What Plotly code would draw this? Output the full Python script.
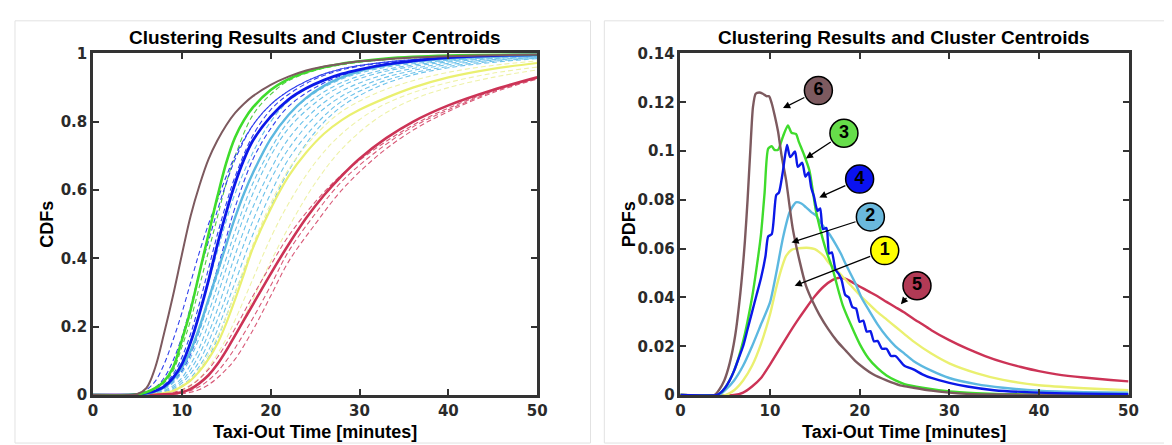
import plotly.graph_objects as go

# ---------------- DATA ----------------
# CDF panel: taxi-out minutes grid for centroid curves
CDF_X = [0, 4, 5, 6, 7, 8, 9, 10, 11, 12, 13, 14, 15, 16, 17, 18, 20, 22, 24, 26, 28, 30, 33, 36, 40, 45, 50]
CDF_C6_BROWN = [0, 0, 0.003, 0.02, 0.08, 0.18, 0.29, 0.41, 0.525, 0.615, 0.69, 0.745, 0.79, 0.826, 0.853, 0.875, 0.908, 0.932, 0.95, 0.962, 0.97, 0.977, 0.983, 0.988, 0.992, 0.995, 0.997]
CDF_C3_GREEN = [0, 0, 0.002, 0.008, 0.02, 0.04, 0.08, 0.16, 0.25, 0.36, 0.47, 0.58, 0.68, 0.755, 0.805, 0.842, 0.893, 0.925, 0.946, 0.96, 0.97, 0.977, 0.985, 0.99, 0.994, 0.997, 0.998]
CDF_C4_BLUE = [0, 0, 0.002, 0.006, 0.012, 0.025, 0.05, 0.09, 0.155, 0.24, 0.335, 0.44, 0.535, 0.62, 0.69, 0.745, 0.815, 0.865, 0.898, 0.922, 0.94, 0.953, 0.968, 0.978, 0.988, 0.994, 0.997]
CDF_C2_LIGHTBLUE = [0, 0, 0.001, 0.004, 0.01, 0.022, 0.045, 0.08, 0.13, 0.2, 0.28, 0.36, 0.44, 0.52, 0.59, 0.65, 0.75, 0.82, 0.87, 0.905, 0.93, 0.948, 0.965, 0.976, 0.985, 0.992, 0.995]
CDF_C1_YELLOW = [0, 0, 0, 0.001, 0.003, 0.006, 0.012, 0.025, 0.043, 0.07, 0.105, 0.15, 0.21, 0.28, 0.355, 0.43, 0.545, 0.64, 0.71, 0.765, 0.805, 0.835, 0.87, 0.9, 0.93, 0.955, 0.972]
CDF_C5_RED = [0, 0, 0, 0, 0.001, 0.002, 0.004, 0.008, 0.018, 0.035, 0.058, 0.09, 0.13, 0.175, 0.22, 0.265, 0.355, 0.44, 0.518, 0.585, 0.642, 0.692, 0.752, 0.8, 0.848, 0.893, 0.93]

# CDF panel: individual (dashed) cluster members
MEMBER_X = [0, 5, 6, 7, 8, 9, 10, 11, 12, 13, 14, 15, 16, 18, 20, 22, 25, 28, 32, 36, 40, 45, 50]
GREEN_M1 = [0, 0.001, 0.006, 0.017, 0.035, 0.07, 0.14, 0.22, 0.32, 0.42, 0.52, 0.62, 0.70, 0.82, 0.88, 0.92, 0.95, 0.967, 0.98, 0.987, 0.992, 0.995, 0.997]
BLUE_M1 = [0, 0.003, 0.015, 0.04, 0.09, 0.16, 0.24, 0.33, 0.42, 0.5, 0.57, 0.64, 0.7, 0.79, 0.85, 0.89, 0.93, 0.955, 0.972, 0.982, 0.988, 0.993, 0.996]
BLUE_M2 = [0, 0.002, 0.008, 0.022, 0.05, 0.1, 0.17, 0.26, 0.36, 0.45, 0.54, 0.62, 0.69, 0.79, 0.85, 0.89, 0.93, 0.955, 0.972, 0.982, 0.988, 0.993, 0.996]
BLUE_M3 = [0, 0.001, 0.004, 0.01, 0.02, 0.04, 0.07, 0.12, 0.19, 0.28, 0.37, 0.46, 0.55, 0.69, 0.78, 0.845, 0.9, 0.935, 0.96, 0.975, 0.984, 0.991, 0.995]
BLUE_M4 = [0, 0.001, 0.005, 0.014, 0.03, 0.06, 0.11, 0.18, 0.27, 0.37, 0.47, 0.56, 0.64, 0.76, 0.835, 0.88, 0.925, 0.952, 0.97, 0.98, 0.987, 0.992, 0.996]
LB_M1 = [0, 0.001, 0.004, 0.012, 0.028, 0.055, 0.1, 0.16, 0.24, 0.33, 0.42, 0.51, 0.59, 0.71, 0.8, 0.86, 0.91, 0.94, 0.963, 0.976, 0.984, 0.99, 0.994]
LB_M2 = [0, 0.001, 0.003, 0.009, 0.02, 0.04, 0.075, 0.125, 0.19, 0.27, 0.35, 0.44, 0.52, 0.65, 0.75, 0.82, 0.885, 0.925, 0.955, 0.97, 0.98, 0.988, 0.993]
LB_M3 = [0, 0.001, 0.003, 0.008, 0.017, 0.035, 0.065, 0.11, 0.17, 0.24, 0.32, 0.4, 0.48, 0.62, 0.72, 0.8, 0.87, 0.915, 0.948, 0.966, 0.978, 0.987, 0.992]
LB_M4 = [0, 0, 0.002, 0.006, 0.013, 0.027, 0.05, 0.09, 0.14, 0.21, 0.29, 0.37, 0.45, 0.59, 0.7, 0.78, 0.855, 0.905, 0.942, 0.962, 0.975, 0.985, 0.991]
LB_M5 = [0, 0, 0.002, 0.005, 0.011, 0.022, 0.042, 0.075, 0.12, 0.18, 0.25, 0.33, 0.41, 0.55, 0.66, 0.75, 0.835, 0.89, 0.932, 0.956, 0.971, 0.982, 0.989]
LB_M6 = [0, 0, 0.001, 0.004, 0.009, 0.018, 0.035, 0.063, 0.1, 0.155, 0.22, 0.29, 0.37, 0.51, 0.63, 0.72, 0.815, 0.875, 0.922, 0.95, 0.967, 0.98, 0.988]
LB_M7 = [0, 0, 0.001, 0.003, 0.007, 0.015, 0.028, 0.05, 0.085, 0.13, 0.19, 0.26, 0.33, 0.47, 0.59, 0.69, 0.79, 0.86, 0.912, 0.943, 0.962, 0.977, 0.986]
LB_M8 = [0, 0, 0.001, 0.003, 0.006, 0.012, 0.024, 0.043, 0.072, 0.11, 0.165, 0.23, 0.3, 0.43, 0.55, 0.655, 0.77, 0.845, 0.902, 0.937, 0.958, 0.974, 0.985]
YEL_M1 = [0, 0, 0.001, 0.003, 0.007, 0.014, 0.027, 0.047, 0.078, 0.12, 0.17, 0.23, 0.3, 0.44, 0.56, 0.66, 0.76, 0.83, 0.885, 0.92, 0.945, 0.965, 0.978]
YEL_M2 = [0, 0, 0, 0.002, 0.004, 0.008, 0.016, 0.03, 0.05, 0.08, 0.12, 0.165, 0.22, 0.34, 0.46, 0.56, 0.68, 0.765, 0.84, 0.885, 0.915, 0.942, 0.96]
YEL_M3 = [0, 0, 0, 0.001, 0.003, 0.006, 0.012, 0.022, 0.038, 0.06, 0.09, 0.13, 0.175, 0.28, 0.39, 0.49, 0.62, 0.72, 0.81, 0.865, 0.9, 0.93, 0.952]
RED_M1 = [0, 0, 0.001, 0.002, 0.004, 0.008, 0.015, 0.028, 0.048, 0.075, 0.11, 0.15, 0.195, 0.29, 0.38, 0.465, 0.565, 0.645, 0.725, 0.79, 0.84, 0.89, 0.928]
RED_M2 = [0, 0, 0, 0, 0.001, 0.002, 0.004, 0.008, 0.016, 0.03, 0.05, 0.075, 0.105, 0.19, 0.29, 0.39, 0.5, 0.6, 0.7, 0.775, 0.83, 0.885, 0.925]
RED_M3 = [0, 0, 0, 0.001, 0.002, 0.004, 0.007, 0.013, 0.025, 0.043, 0.068, 0.1, 0.138, 0.225, 0.32, 0.42, 0.53, 0.625, 0.715, 0.785, 0.835, 0.888, 0.927]

# PDF panel: centroid densities
PDF6_X = [0, 3.8, 4.3, 4.9, 5.5, 6.1, 6.7, 7.2, 7.5, 7.8, 8.1, 8.4, 8.8, 9.2, 9.6, 9.9, 10.2, 10.5, 10.9, 11.3, 11.8, 12.2, 12.55, 13.3, 14.0, 14.8, 15.5, 16.5, 17.5, 18.5, 19.5, 20.5, 21.5, 23.0, 24.5, 26.0, 28.0, 30.0, 32.0, 35.0, 50.0]
PDF6_Y = [0, 0, 0.002, 0.006, 0.013, 0.024, 0.042, 0.063, 0.080, 0.100, 0.118, 0.1235, 0.124, 0.1235, 0.1225, 0.1225, 0.1195, 0.115, 0.108, 0.098, 0.088, 0.077, 0.068, 0.055, 0.045, 0.038, 0.033, 0.027, 0.022, 0.018, 0.014, 0.011, 0.0085, 0.006, 0.004, 0.003, 0.0018, 0.001, 0.0005, 0.0002, 0]
PDF3_X = [0, 4, 4.5, 5, 6, 7, 8, 8.5, 9, 9.4, 9.8, 10.2, 10.5, 10.9, 11.45, 12.0, 12.4, 12.9, 13.2, 13.8, 14.4, 15.1, 15.6, 16.2, 17.0, 17.7, 18.1, 19, 20, 21, 22, 23, 24, 25, 27, 30, 33, 36, 40, 50]
PDF3_Y = [0, 0, 0.001, 0.003, 0.010, 0.022, 0.040, 0.052, 0.066, 0.083, 0.101, 0.102, 0.1005, 0.1005, 0.106, 0.1105, 0.1075, 0.107, 0.104, 0.0985, 0.092, 0.076, 0.068, 0.060, 0.0515, 0.042, 0.037, 0.029, 0.021, 0.015, 0.011, 0.008, 0.006, 0.0045, 0.003, 0.0015, 0.0008, 0.0004, 0.0002, 0]
PDF4_X = [0, 4, 4.5, 5, 5.5, 6, 6.5, 7, 7.5, 8, 8.5, 9, 9.5, 9.8, 10.2, 10.7, 11.0, 11.45, 11.9, 12.25, 12.8, 13.1, 13.6, 13.95, 14.3, 14.6, 14.9, 15.3, 15.6, 15.9, 16.3, 16.6, 16.9, 17.3, 17.7, 18.0, 18.4, 18.8, 19.2, 19.6, 20.0, 20.4, 20.8, 21.2, 21.6, 22.0, 22.5, 23.0, 23.5, 24.0, 25, 26, 27, 28, 30, 32, 35, 40, 45, 50]
PDF4_Y = [0, 0, 0.001, 0.003, 0.006, 0.010, 0.015, 0.020, 0.027, 0.034, 0.041, 0.048, 0.057, 0.065, 0.066, 0.082, 0.083, 0.092, 0.1025, 0.0975, 0.0998, 0.0935, 0.0952, 0.0895, 0.0912, 0.085, 0.0815, 0.0755, 0.0765, 0.068, 0.0685, 0.058, 0.0585, 0.0515, 0.0495, 0.047, 0.041, 0.040, 0.036, 0.0355, 0.030, 0.0305, 0.026, 0.0262, 0.022, 0.0222, 0.019, 0.019, 0.016, 0.016, 0.012, 0.0105, 0.0085, 0.007, 0.005, 0.0035, 0.002, 0.001, 0.0006, 0.0004]
PDF2_X = [0, 4.3, 5, 6, 7, 8, 9, 10, 10.7, 11.45, 12.2, 12.9, 13.5, 14.0, 14.6, 15.1, 15.6, 16.2, 16.8, 17.3, 17.9, 18.4, 19.5, 20.2, 21, 22, 23, 24, 25, 26, 28, 30, 33, 36, 40, 45, 50]
PDF2_Y = [0, 0, 0.002, 0.006, 0.012, 0.020, 0.029, 0.038, 0.050, 0.0645, 0.075, 0.079, 0.0785, 0.077, 0.075, 0.0737, 0.071, 0.068, 0.065, 0.062, 0.058, 0.054, 0.046, 0.040, 0.035, 0.029, 0.024, 0.020, 0.017, 0.014, 0.010, 0.007, 0.0045, 0.003, 0.0018, 0.0012, 0.001]
PDF1_X = [0, 5, 6, 7, 8, 9, 10, 10.7, 11.3, 11.8, 12.4, 12.9, 13.6, 14.4, 15.0, 15.5, 16.0, 16.6, 17.3, 18, 19, 20, 21, 22, 23, 24, 25, 26, 28, 30, 33, 36, 40, 45, 50]
PDF1_Y = [0, 0, 0.002, 0.006, 0.012, 0.021, 0.033, 0.044, 0.052, 0.057, 0.0595, 0.060, 0.0603, 0.0603, 0.0598, 0.0586, 0.057, 0.054, 0.0515, 0.049, 0.045, 0.041, 0.0375, 0.034, 0.031, 0.028, 0.025, 0.022, 0.017, 0.013, 0.009, 0.0062, 0.004, 0.0028, 0.002]
PDF5_X = [0, 6, 7, 8, 9, 10, 11, 12, 13, 14, 15, 16, 17, 17.6, 18.4, 19, 20, 21, 22, 23, 24, 25, 26, 27, 28, 30, 32, 34, 36, 38, 40, 42, 45, 48, 50]
PDF5_Y = [0, 0, 0.001, 0.0035, 0.007, 0.0125, 0.0185, 0.0245, 0.0302, 0.0355, 0.0405, 0.0445, 0.0472, 0.048, 0.0477, 0.0466, 0.0445, 0.0425, 0.0405, 0.0382, 0.036, 0.0338, 0.0313, 0.029, 0.0266, 0.0225, 0.019, 0.016, 0.0135, 0.0115, 0.0098, 0.0085, 0.0072, 0.0062, 0.0056]

# Cluster labels: label text, label position, arrow target (data units of PDF panel)
LABELS = ["6", "3", "4", "2", "1", "5"]
LABEL_X = [15.4, 18.25, 20.0, 21.2, 22.8, 26.4]
LABEL_Y = [0.1248, 0.1073, 0.0885, 0.073, 0.0592, 0.0448]
ARROW_X = [11.45, 14.0, 15.5, 12.4, 12.75, 24.6]
ARROW_Y = [0.1176, 0.097, 0.081, 0.0625, 0.0448, 0.0372]

TITLE = "Clustering Results and Cluster Centroids"
XLABEL = "Taxi-Out Time [minutes]"

# ---------------- STYLE ----------------
FONT = "Liberation Sans, Arial, sans-serif"
TICK_FONT = "DejaVu Sans, Liberation Sans, sans-serif"
C_BROWN = "#7d5a5f"
C_GREEN = "#3fdc2c"
C_BLUE = "#0b18e8"
C_LBLUE = "#5cb8e0"
C_YEL = "#eaf070"
C_RED = "#cc3356"
CIRCLE_FILL = {"6": "#7d5a5f", "3": "#66dd4a", "4": "#0a12f0", "2": "#6ab8dc", "1": "#ffff00", "5": "#b23a55"}

W, H = 1172, 445
L_DOM = [81 / W, 531 / W]
R_DOM = [676 / W, 1130 / W]
Y_DOM = [1 - 394 / H, 1 - 38 / H]

fig = go.Figure()

members = [
    (GREEN_M1, "#55cc44"),
    (BLUE_M1, "#3040ee"), (BLUE_M2, "#3040ee"), (BLUE_M3, "#3040ee"), (BLUE_M4, "#3040ee"),
    (LB_M1, "#6cc2ea"), (LB_M2, "#6cc2ea"), (LB_M3, "#6cc2ea"), (LB_M4, "#6cc2ea"),
    (LB_M5, "#6cc2ea"), (LB_M6, "#6cc2ea"), (LB_M7, "#6cc2ea"), (LB_M8, "#6cc2ea"),
    (YEL_M1, "#eef2a8"), (YEL_M2, "#eef2a8"), (YEL_M3, "#eef2a8"),
    (RED_M1, "#d85a78"), (RED_M2, "#d85a78"), (RED_M3, "#d85a78"),
]
for ys, col in members:
    fig.add_trace(go.Scatter(x=MEMBER_X, y=ys, mode="lines", xaxis="x", yaxis="y",
                             line=dict(color=col, width=1.1, dash="5px,3px", shape="spline", smoothing=1.0),
                             showlegend=False, hoverinfo="skip"))

centroids = [
    (CDF_C1_YELLOW, C_YEL, 2.2), (CDF_C5_RED, C_RED, 2.6), (CDF_C2_LIGHTBLUE, C_LBLUE, 2.4),
    (CDF_C4_BLUE, C_BLUE, 2.8), (CDF_C3_GREEN, C_GREEN, 2.6), (CDF_C6_BROWN, C_BROWN, 2.0),
]
for ys, col, w in centroids:
    fig.add_trace(go.Scatter(x=CDF_X, y=ys, mode="lines", xaxis="x", yaxis="y",
                             line=dict(color=col, width=w, shape="spline", smoothing=1.0),
                             showlegend=False))

pdfs = [
    (PDF5_X, PDF5_Y, C_RED), (PDF1_X, PDF1_Y, C_YEL), (PDF2_X, PDF2_Y, C_LBLUE),
    (PDF3_X, PDF3_Y, C_GREEN), (PDF6_X, PDF6_Y, C_BROWN), (PDF4_X, PDF4_Y, C_BLUE),
]
for xs, ys, col in pdfs:
    fig.add_trace(go.Scatter(x=xs, y=ys, mode="lines", xaxis="x2", yaxis="y2",
                             line=dict(color=col, width=2.4, shape="spline", smoothing=0.6),
                             showlegend=False))

fig.add_trace(go.Scatter(
    x=LABEL_X, y=LABEL_Y, mode="markers+text", xaxis="x2", yaxis="y2",
    marker=dict(size=28, color=[CIRCLE_FILL[t] for t in LABELS], line=dict(color="black", width=1.5)),
    text=["<b>%s</b>" % t for t in LABELS], textposition="middle center",
    textfont=dict(family=FONT, size=18, color="black"), showlegend=False, cliponaxis=False))

annotations = []
for t, cx, cy, hx, hy in zip(LABELS, LABEL_X, LABEL_Y, ARROW_X, ARROW_Y):
    annotations.append(dict(x=hx, y=hy, xref="x2", yref="y2", ax=cx, ay=cy, axref="x2", ayref="y2",
                            text="", showarrow=True, arrowhead=2, arrowsize=1.1, arrowwidth=1.3,
                            arrowcolor="black", startstandoff=14))

for cx in [(L_DOM[0] + L_DOM[1]) / 2, (R_DOM[0] + R_DOM[1]) / 2]:
    annotations.append(dict(x=cx, y=1 - 21 / H, xref="paper", yref="paper", text="<b>%s</b>" % TITLE,
                            showarrow=False, font=dict(family=FONT, size=19, color="black"),
                            xanchor="center", yanchor="middle"))
    annotations.append(dict(x=cx, y=1 - 433 / H, xref="paper", yref="paper", text="<b>%s</b>" % XLABEL,
                            showarrow=False, font=dict(family=FONT, size=18, color="black"),
                            xanchor="center", yanchor="middle"))
annotations.append(dict(x=35 / W, y=1 - 216 / H, xref="paper", yref="paper", text="<b>CDFs</b>",
                        showarrow=False, textangle=-90, font=dict(family=FONT, size=18, color="black"),
                        xanchor="center", yanchor="middle"))
annotations.append(dict(x=624 / W, y=1 - 216 / H, xref="paper", yref="paper", text="<b>PDFs</b>",
                        showarrow=False, textangle=-90, font=dict(family=FONT, size=18, color="black"),
                        xanchor="center", yanchor="middle"))

axis_common = dict(showgrid=False, zeroline=False, showline=True, linecolor="#333333", linewidth=2.5,
                   mirror="ticks", ticks="inside", ticklen=6, tickwidth=2, tickcolor="#333333",
                   tickfont=dict(family=TICK_FONT, size=15, color="#2a2a2a", weight="bold"))

shapes = [
    dict(type="rect", xref="paper", yref="paper", x0=2 / W, x1=585 / W, y0=1 - 444 / H, y1=1 - 4 / H,
         line=dict(color="#e2e2e2", width=1), layer="below"),
    dict(type="rect", xref="paper", yref="paper", x0=599 / W, x1=1170 / W, y0=1 - 444 / H, y1=1 - 4 / H,
         line=dict(color="#e2e2e2", width=1), layer="below"),
]

fig.update_layout(
    width=W, height=H, autosize=False,
    margin=dict(l=0, r=0, t=0, b=0),
    paper_bgcolor="white", plot_bgcolor="white",
    showlegend=False,
    xaxis=dict(domain=L_DOM, range=[0, 50], tickvals=[0, 10, 20, 30, 40, 50], anchor="y", **axis_common),
    yaxis=dict(domain=Y_DOM, range=[0, 1], tickvals=[0, 0.2, 0.4, 0.6, 0.8, 1],
               ticktext=["0", "0.2", "0.4", "0.6", "0.8", "1"], anchor="x", **axis_common),
    xaxis2=dict(domain=R_DOM, range=[0, 50], tickvals=[0, 10, 20, 30, 40, 50], anchor="y2", **axis_common),
    yaxis2=dict(domain=Y_DOM, range=[0, 0.14], tickvals=[0, 0.02, 0.04, 0.06, 0.08, 0.1, 0.12, 0.14],
                ticktext=["0", "0.02", "0.04", "0.06", "0.08", "0.1", "0.12", "0.14"], anchor="x2", **axis_common),
    annotations=annotations,
    shapes=shapes,
)

fig.write_html("out.html")
